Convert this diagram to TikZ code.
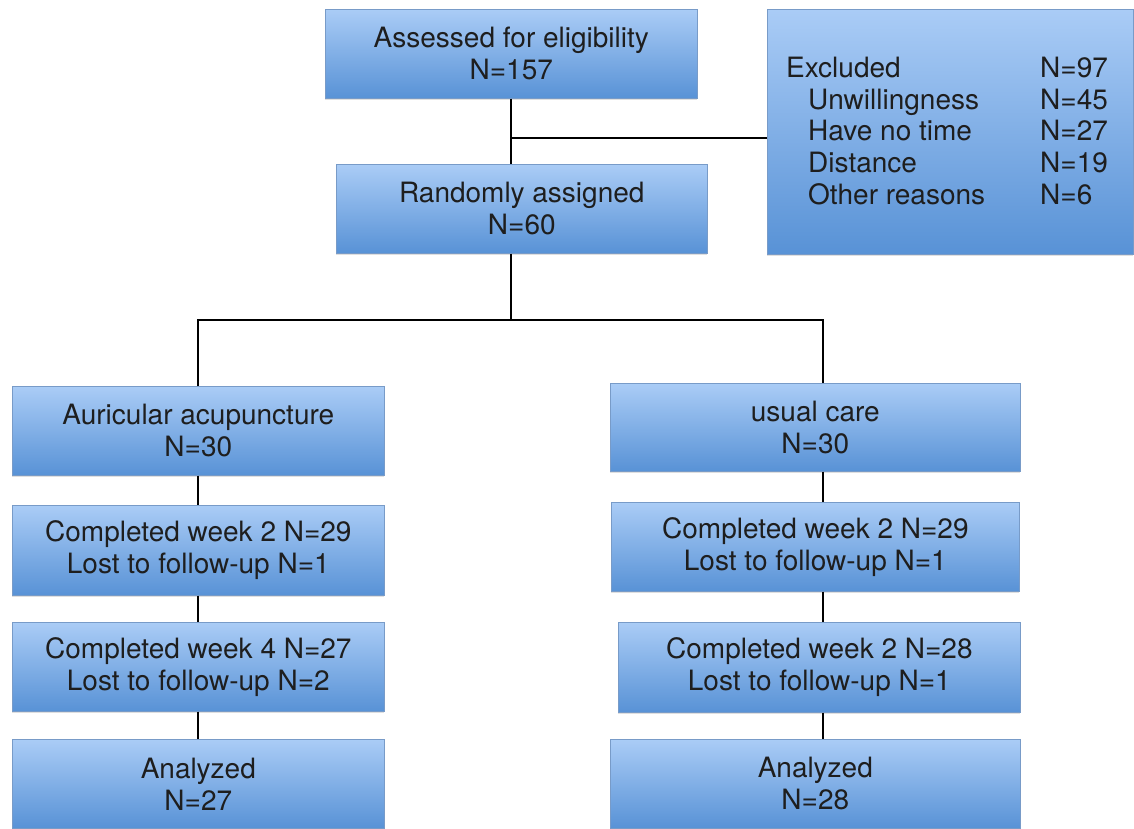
\documentclass[tikz,border=0pt]{standalone}
\usepackage{fontspec}
\setmainfont{TeX Gyre Heros}
\usetikzlibrary{shadows}
\definecolor{boxtop}{RGB}{170,204,246}
\definecolor{boxbot}{RGB}{88,146,214}
\definecolor{boxline}{RGB}{120,155,200}
\definecolor{txtcol}{RGB}{30,30,30}
\tikzset{
  flowbox/.style={draw=boxline, line width=0.6pt, top color=boxtop, bottom color=boxbot,
    anchor=north west, inner sep=0pt, align=center, text=txtcol,
    font=\fontsize{28}{32}\selectfont,
    drop shadow={shadow xshift=0pt, shadow yshift=-2pt, opacity=0.25}},
  conn/.style={draw=black, line width=2.8pt},
}
\begin{document}
\begin{tikzpicture}[x=1pt,y=-1pt]
\useasboundingbox (0,0) rectangle (1134,829);
% top boxes
\node[flowbox, minimum width=372pt, minimum height=89pt] (assess) at (325,9) {Assessed for eligibility\\N=157};
\node[flowbox, minimum width=366pt, minimum height=245pt] (excl) at (767,9) {};
\node[anchor=west, align=left, text=txtcol, inner sep=0pt, font=\fontsize{28}{31.75}\selectfont] (excltxt) at (786,131)
 {\makebox[254pt][l]{Excluded}N=97\\
  \hspace*{22pt}\makebox[232pt][l]{Unwillingness}N=45\\
  \hspace*{22pt}\makebox[232pt][l]{Have no time}N=27\\
  \hspace*{22pt}\makebox[232pt][l]{Distance}N=19\\
  \hspace*{22pt}\makebox[232pt][l]{Other reasons}N=6};
\node[flowbox, minimum width=371pt, minimum height=89pt] (rand) at (336,164) {Randomly assigned\\N=60};
% left column
\node[flowbox, minimum width=372pt, minimum height=89pt] (l1) at (12,386) {Auricular acupuncture\\N=30};
\node[flowbox, minimum width=372pt, minimum height=90pt] (l2) at (12,505) {Completed week 2 N=29\\Lost to follow-up N=1};
\node[flowbox, minimum width=372pt, minimum height=89pt] (l3) at (12,622) {Completed week 4 N=27\\Lost to follow-up N=2};
\node[flowbox, minimum width=372pt, minimum height=89pt] (l4) at (12,739) {Analyzed\\N=27};
% right column
\node[flowbox, minimum width=410pt, minimum height=88pt] (r1) at (610,383) {usual care\\N=30};
\node[flowbox, minimum width=408pt, minimum height=89pt] (r2) at (611,502) {Completed week 2 N=29\\Lost to follow-up N=1};
\node[flowbox, minimum width=402pt, minimum height=90pt] (r3) at (618,622) {Completed week 2 N=28\\Lost to follow-up N=1};
\node[flowbox, minimum width=410pt, minimum height=89pt] (r4) at (610,739) {Analyzed\\N=28};
% connectors
\coordinate (j1) at (511,138);
\coordinate (j2) at (511,320);
\coordinate (lx) at (198,0);
\coordinate (rx) at (823,0);
\draw[conn] (assess.south -| j1) -- (rand.north -| j1);
\draw[conn] (j1) -- (excl.west |- j1);
\draw[conn] (rand.south -| j2) -- (j2);
\draw[conn] (l1.north -| lx) -- (lx |- j2) -- (rx |- j2) -- (r1.north -| rx);
\draw[conn] (l1.south -| lx) -- (l2.north -| lx);
\draw[conn] (l2.south -| lx) -- (l3.north -| lx);
\draw[conn] (l3.south -| lx) -- (l4.north -| lx);
\draw[conn] (r1.south -| rx) -- (r2.north -| rx);
\draw[conn] (r2.south -| rx) -- (r3.north -| rx);
\draw[conn] (r3.south -| rx) -- (r4.north -| rx);
\end{tikzpicture}
\end{document}
